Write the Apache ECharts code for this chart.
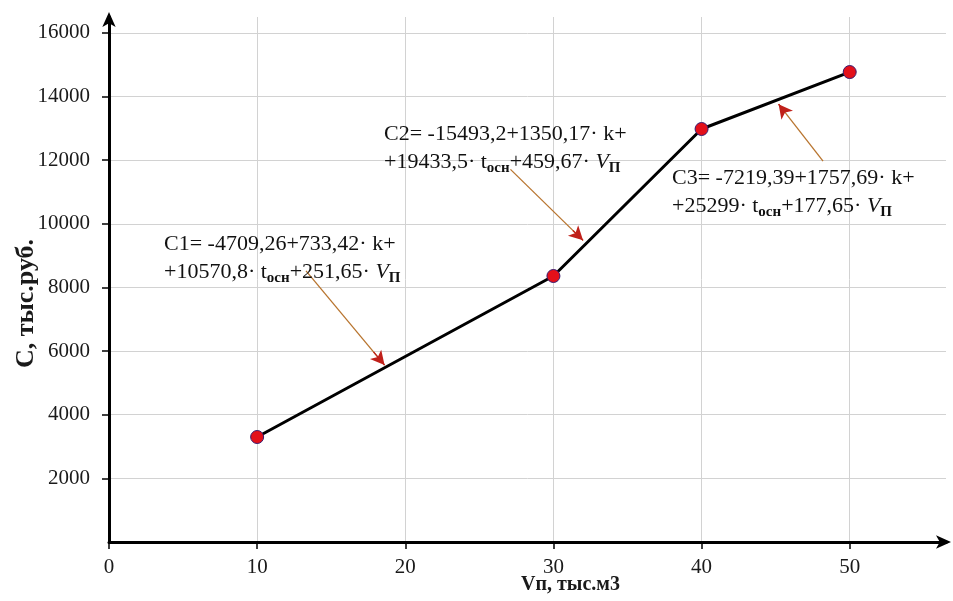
<!DOCTYPE html>
<html>
<head>
<meta charset="utf-8">
<script src="https://cdn.jsdelivr.net/npm/echarts@6/dist/echarts.min.js"></script>
<style>
  html, body { margin: 0; padding: 0; background: #fff; }
  #chart { width: 953px; height: 601px; }
</style>
</head>
<body>
<div id="chart"></div>
<script>
// объём производства, тыс.м3
var volumes = [10, 30, 40, 50];
// затраты, тыс.руб.
var costs = [3300, 8360, 12980, 14770];

// стрелки от формул к участкам ломаной: [x1, y1, x2, y2]
var arrows = [
  [13.3, 8520, 18.6, 5560],
  [27.1, 11710, 32.0, 9480],
  [48.2, 11970, 45.2, 13760]
];

var serif = '"Liberation Serif", "DejaVu Serif", serif';

var chart = echarts.init(document.getElementById('chart'));

var points = volumes.map(function (v, i) { return [v, costs[i]]; });

// стебель стрелки (коричневый) + наконечник (тёмно-красный)
var arrowData = [];
arrows.forEach(function (a) {
  var k = 0.86;
  var mx = a[0] + (a[2] - a[0]) * k, my = a[1] + (a[3] - a[1]) * k;
  arrowData.push([
    { coord: [a[0], a[1]], symbol: 'none', lineStyle: { color: '#b8742e', width: 1.3 } },
    { coord: [a[2], a[3]], symbol: 'none' }
  ]);
  arrowData.push([
    { coord: [mx, my], symbol: 'none', lineStyle: { color: '#c0201a', width: 1.3 } },
    { coord: [a[2], a[3]], symbol: 'arrow', symbolSize: [11, 14] }
  ]);
});

var rich = {
  t: { fontFamily: serif, fontSize: 22, color: '#111', lineHeight: 28, verticalAlign: 'middle' },
  s: { fontFamily: serif, fontSize: 15, fontWeight: 'bold', color: '#111', lineHeight: 13, verticalAlign: 'bottom' },
  v: { fontFamily: serif, fontSize: 22, fontStyle: 'italic', color: '#111', lineHeight: 28, verticalAlign: 'middle' }
};

function formula(x, y, line1, line2a, line2b) {
  return {
    type: 'text',
    left: x,
    top: y,
    z: 100,
    style: {
      text: '{t|' + line1 + '}\n{t|' + line2a + '· t}{s|осн}{t|' + line2b + '· }{v|V}{s|П}',
      rich: rich,
      fill: '#111'
    }
  };
}

var option = {
  backgroundColor: '#fff',
  animation: false,
  grid: { left: 109, right: 7, top: 17, bottom: 59, containLabel: false, outerBoundsMode: 'none' },
  xAxis: {
    type: 'value',
    min: 0,
    max: 56.5,
    interval: 10,
    name: 'Vп, тыс.м3',
    nameLocation: 'middle',
    nameGap: 33,
    nameMoveOverlap: false,
    nameTextStyle: { fontFamily: serif, fontSize: 20, fontWeight: 'bold', color: '#1a1a1a', padding: [0, 0, 0, 86] },
    axisLine: { lineStyle: { color: '#000', width: 3 }, symbol: ['none', 'arrow'], symbolSize: [10, 15], symbolOffset: [0, 5] },
    axisTick: { show: true, length: 7, lineStyle: { color: '#000', width: 1.5 } },
    axisLabel: {
      fontFamily: serif, fontSize: 21, color: '#1a1a1a', margin: 15,
      showMaxLabel: false,
      formatter: function (v) { return v % 10 === 0 ? String(v) : ''; }
    },
    splitLine: { show: true, showMaxLine: false, lineStyle: { color: '#d2d2d2', width: 1 } }
  },
  yAxis: {
    type: 'value',
    min: 0,
    max: 16500,
    interval: 2000,
    name: 'C, тыс.руб.',
    nameLocation: 'middle',
    nameGap: 70,
    nameMoveOverlap: false,
    nameRotate: 90,
    nameTextStyle: { fontFamily: serif, fontSize: 26, fontWeight: 'bold', color: '#1a1a1a', padding: [0, 48, 0, 0] },
    axisLine: { lineStyle: { color: '#000', width: 3 }, symbol: ['none', 'arrow'], symbolSize: [10, 15], symbolOffset: [0, 5] },
    axisTick: { show: true, length: 7, lineStyle: { color: '#000', width: 1.5 } },
    axisLabel: {
      fontFamily: serif, fontSize: 21, color: '#1a1a1a', margin: 19,
      showMinLabel: false,
      showMaxLabel: false,
      formatter: function (v) { return v % 2000 === 0 && v > 0 ? String(v) : ''; }
    },
    splitLine: { show: true, showMaxLine: false, lineStyle: { color: '#d2d2d2', width: 1 } }
  },
  series: [{
    type: 'line',
    data: points,
    symbol: 'circle',
    symbolSize: 13,
    lineStyle: { color: '#000', width: 3 },
    itemStyle: { color: '#e3101a', borderColor: '#3a1b6e', borderWidth: 1 },
    z: 10,
    markLine: {
      silent: true,
      symbol: ['none', 'none'],
      label: { show: false },
      lineStyle: { type: 'solid' },
      data: arrowData
    }
  }],
  graphic: [
    formula(164, 233, 'C1= -4709,26+733,42· k+', '+10570,8', '+251,65'),
    formula(384, 123, 'C2= -15493,2+1350,17· k+', '+19433,5', '+459,67'),
    formula(672, 167, 'C3= -7219,39+1757,69· k+', '+25299', '+177,65')
  ]
};

chart.setOption(option);
</script>
</body>
</html>
